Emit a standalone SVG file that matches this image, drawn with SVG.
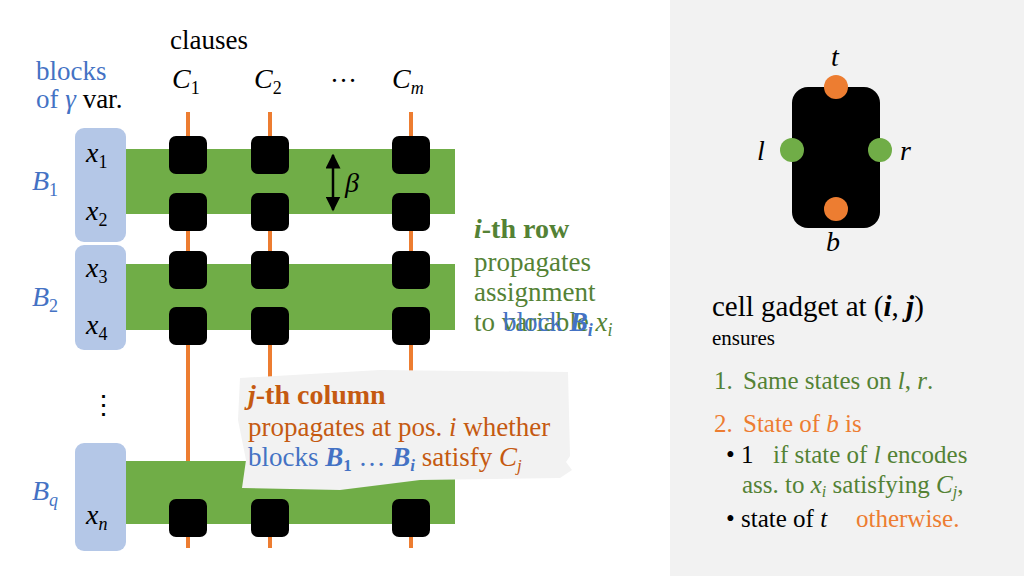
<svg xmlns="http://www.w3.org/2000/svg" width="1024" height="576" viewBox="0 0 1024 576">
<style>
text{font-family:"Liberation Serif","DejaVu Serif",serif}
.m{font-style:italic;font-size:28px}
.sub{font-size:18px;font-style:normal}
.msub{font-size:18px;font-style:italic}
.blk{fill:#b4c7e7}
.band{fill:#70ad47}
.col{stroke:#ed7d31;stroke-width:4}
.sq{fill:#000}
.bl{fill:#4472c4}
.gr{fill:#548235}
.or{fill:#c55a11}
.or2{fill:#ed7d31}
.t{font-size:27px}
</style>
<defs>
<marker id="ah" viewBox="0 0 10 10" refX="9" refY="5" markerWidth="6" markerHeight="6" orient="auto-start-reverse"><path d="M0,0L10,5L0,10z" fill="#000"/></marker>
</defs>
<rect x="670" y="0" width="354" height="576" fill="#f2f2f2"/>
<g id="connectors">
<line class="col" x1="188" y1="112" x2="188" y2="548"/>
<line class="col" x1="270" y1="112" x2="270" y2="548"/>
<line class="col" x1="411" y1="112" x2="411" y2="548"/>
</g>
<g id="rows">
<rect class="band" x="126" y="149" width="329" height="65"/>
<rect class="band" x="126" y="264" width="329" height="66"/>
<rect class="band" x="126" y="461" width="329" height="63"/>
</g>
<g id="blocks">
<rect class="blk" x="75" y="128" width="51" height="114" rx="9"/>
<rect class="blk" x="75" y="245" width="51" height="105" rx="9"/>
<rect class="blk" x="75" y="443" width="51" height="108" rx="9"/>
</g>
<g id="cells">
<rect class="sq" x="169" y="136" width="38" height="38" rx="7"/>
<rect class="sq" x="251" y="136" width="38" height="38" rx="7"/>
<rect class="sq" x="392" y="136" width="38" height="38" rx="7"/>
<rect class="sq" x="169" y="193" width="38" height="38" rx="7"/>
<rect class="sq" x="251" y="193" width="38" height="38" rx="7"/>
<rect class="sq" x="392" y="193" width="38" height="38" rx="7"/>
<rect class="sq" x="169" y="251" width="38" height="38" rx="7"/>
<rect class="sq" x="251" y="251" width="38" height="38" rx="7"/>
<rect class="sq" x="392" y="251" width="38" height="38" rx="7"/>
<rect class="sq" x="169" y="307" width="38" height="38" rx="7"/>
<rect class="sq" x="251" y="307" width="38" height="38" rx="7"/>
<rect class="sq" x="392" y="307" width="38" height="38" rx="7"/>
<rect class="sq" x="169" y="499" width="38" height="38" rx="7"/>
<rect class="sq" x="251" y="499" width="38" height="38" rx="7"/>
<rect class="sq" x="392" y="499" width="38" height="38" rx="7"/>
</g>
<line x1="333" y1="155" x2="333" y2="210" stroke="#000" stroke-width="2.5" marker-start="url(#ah)" marker-end="url(#ah)"/>
<text x="345" y="192" class="m">β</text>
<text x="170" y="49" class="t">clauses</text>
<text x="172" y="88" class="m">C<tspan class="sub" dy="6">1</tspan></text>
<text x="254" y="88" class="m">C<tspan class="sub" dy="6">2</tspan></text>
<text x="330" y="82" class="t">…</text>
<text x="392" y="88" class="m">C<tspan class="msub" dy="6">m</tspan></text>
<text x="36" y="80" class="t bl">blocks</text>
<text x="36" y="108" class="t"><tspan class="bl">of </tspan><tspan class="bl" font-style="italic">γ</tspan> var.</text>
<text x="86" y="162" class="m">x<tspan class="sub" dy="6">1</tspan></text>
<text x="86" y="220" class="m">x<tspan class="sub" dy="6">2</tspan></text>
<text x="86" y="277" class="m">x<tspan class="sub" dy="6">3</tspan></text>
<text x="86" y="334" class="m">x<tspan class="sub" dy="6">4</tspan></text>
<text x="86" y="524" class="m">x<tspan class="msub" dy="6">n</tspan></text>
<text x="90" y="414" class="t">⋮</text>
<text x="32" y="190" class="m bl">B<tspan class="sub" dy="6">1</tspan></text>
<text x="32" y="306" class="m bl">B<tspan class="sub" dy="6">2</tspan></text>
<text x="32" y="500" class="m bl">B<tspan class="msub" dy="6">q</tspan></text>
<g id="rowlabel">
<text x="474" y="238" class="gr" font-size="28" font-weight="bold"><tspan font-style="italic">i</tspan>-th row</text>
<text x="474" y="271" class="gr" font-size="27">propagates</text>
<text x="474" y="301" class="gr" font-size="27">assignment</text>
<text x="474" y="331" class="gr" font-size="27">to variable <tspan font-style="italic">x</tspan><tspan class="msub" dy="5">i</tspan></text>
<text x="503" y="331" class="bl" font-size="27">block <tspan font-style="italic" font-weight="bold">B</tspan><tspan class="msub" font-weight="bold" dy="5">i</tspan></text>
</g>
<g id="callout">
<path d="M240,378 L380,370 L568,372 L570,456 L566,462 L572,470 L560,478 L420,480 L340,490 L242,488 L246,460 L238,420 Z" fill="#f2f2f2"/>
<text x="248" y="404" class="or" font-size="28" font-weight="bold"><tspan font-style="italic">j</tspan>-th column</text>
<text x="248" y="436" class="or" font-size="27">propagates at pos. <tspan font-style="italic">i</tspan> whether</text>
<text x="248" y="466" font-size="27"><tspan class="bl">blocks <tspan font-weight="bold" font-style="italic">B</tspan><tspan font-weight="bold" font-size="17" dy="5">1</tspan><tspan dy="-5"> … </tspan><tspan font-weight="bold" font-style="italic">B</tspan><tspan font-weight="bold" font-style="italic" font-size="17" dy="5">i</tspan></tspan><tspan class="or" dy="-5"> satisfy </tspan><tspan class="or" font-style="italic">C</tspan><tspan class="or" font-style="italic" font-size="17" dy="5">j</tspan></text>
</g>
<g id="gadget">
<rect x="792" y="87" width="88" height="141" rx="16" fill="#000"/>
<circle cx="836" cy="87" r="12" fill="#ed7d31"/>
<circle cx="836" cy="209" r="12" fill="#ed7d31"/>
<circle cx="792" cy="150" r="12" fill="#70ad47"/>
<circle cx="880" cy="150" r="12" fill="#70ad47"/>
<text x="831" y="66" class="m" font-size="24">t</text>
<text x="826" y="251" class="m" font-size="24">b</text>
<text x="757" y="160" class="m" font-size="24">l</text>
<text x="900" y="160" class="m" font-size="24">r</text>
</g>
<g id="gadgettext">
<text x="712" y="316" font-size="29">cell gadget at (<tspan font-style="italic" font-weight="bold">i</tspan>, <tspan font-style="italic" font-weight="bold">j</tspan>)</text>
<text x="712" y="345" font-size="21">ensures</text>
<text x="714" y="389" class="gr" font-size="25">1.<tspan x="743">Same states on </tspan><tspan font-style="italic">l</tspan>, <tspan font-style="italic">r</tspan>.</text>
<text x="714" y="432" class="or2" font-size="25">2.<tspan x="743">State of </tspan><tspan font-style="italic">b</tspan> is</text>
<text x="726" y="463" font-size="25">• 1<tspan class="gr" x="773">if state of <tspan font-style="italic">l</tspan> encodes</tspan></text>
<text x="742" y="493" class="gr" font-size="25">ass. to <tspan font-style="italic">x</tspan><tspan font-style="italic" font-size="16" dy="4">i</tspan><tspan dy="-4"> satisfying </tspan><tspan font-style="italic">C</tspan><tspan font-style="italic" font-size="16" dy="4">j</tspan><tspan dy="-4">,</tspan></text>
<text x="726" y="527" font-size="25">• state of <tspan font-style="italic">t</tspan><tspan class="or2" x="856">otherwise.</tspan></text>
</g>
</svg>
